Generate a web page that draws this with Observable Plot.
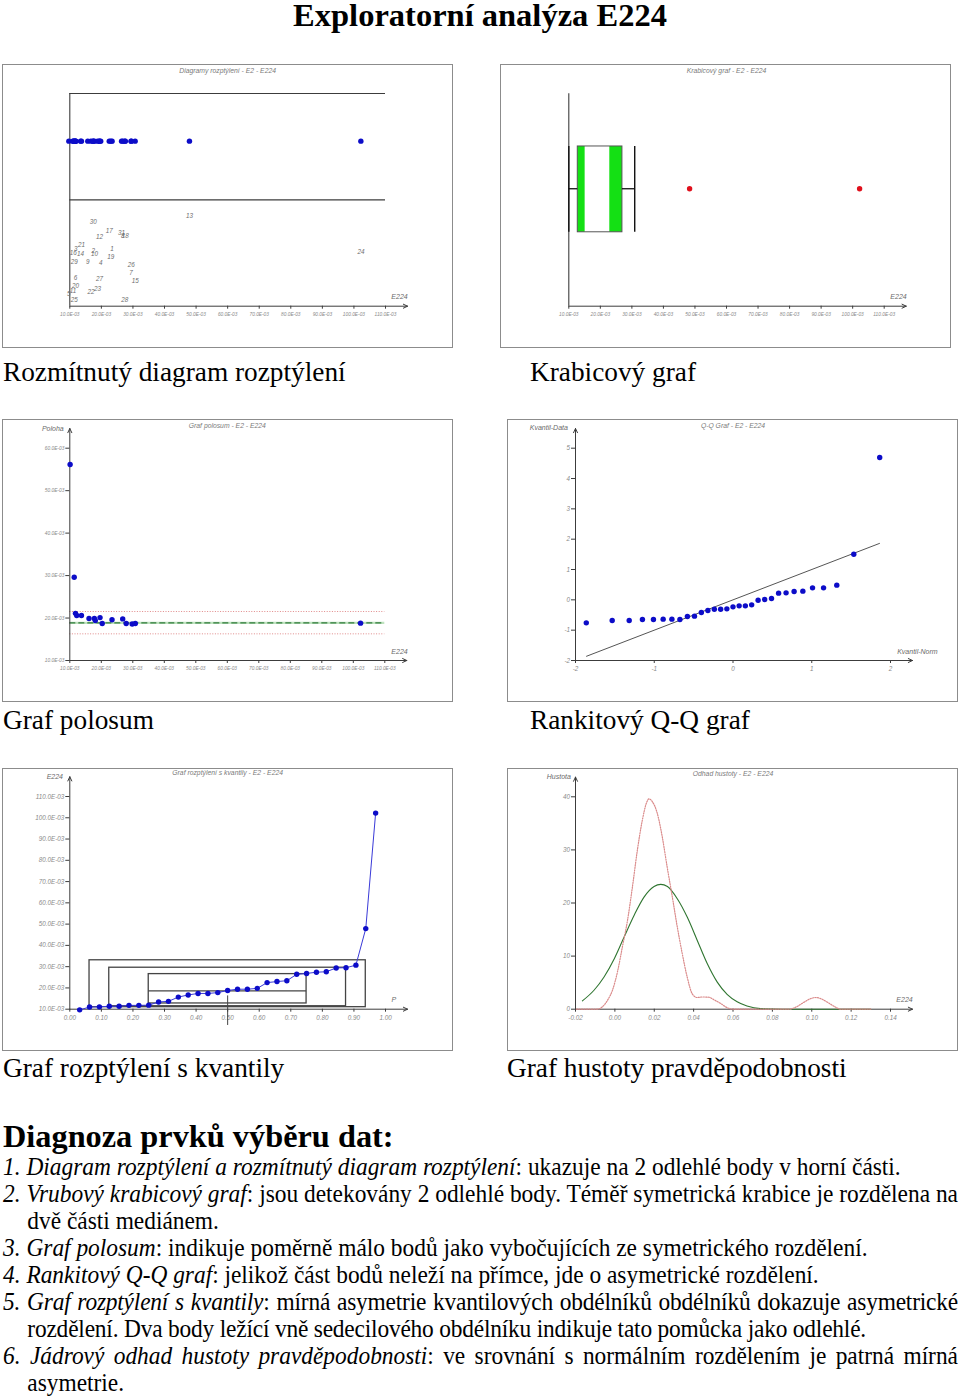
<!DOCTYPE html>
<html><head><meta charset="utf-8">
<script src="https://cdn.jsdelivr.net/npm/d3@7"></script>
<script src="https://cdn.jsdelivr.net/npm/@observablehq/plot@0.6"></script>
<style>
body{margin:0;background:#fff;}
#page{position:relative;width:960px;height:1399px;overflow:hidden;font-family:"Liberation Serif","Times New Roman",serif;color:#000;}
.panel{position:absolute;outline:1px solid #8c8c8c;outline-offset:-1px;background:#fff;}
.panel svg{position:absolute;left:0;top:0;}
.cap{position:absolute;font-size:27.3px;line-height:30px;white-space:nowrap;}
#title{position:absolute;left:0;top:0;width:960px;text-align:center;font-weight:bold;font-size:32.5px;line-height:31px;}
#diag{position:absolute;left:3px;top:1119px;font-weight:bold;font-size:32px;line-height:34px;white-space:nowrap;transform:scaleX(1.01);transform-origin:0 0;}
#notes{position:absolute;left:3px;top:1153px;font-size:25px;line-height:27px;transform:scaleX(0.9355);transform-origin:0 0;}
#notes p{margin:0;text-align:justify;padding-left:26px;text-indent:-26px;}
#notes p.tight{letter-spacing:-0.2px;}
</style></head>
<body>
<div id="page">
 <div id="title">Exploratorní analýza E224</div>
 <div class="panel" id="p1" style="left:2px;top:64px;width:451px;height:284px"></div>
 <div class="panel" id="p2" style="left:500px;top:64px;width:451px;height:284px"></div>
 <div class="panel" id="p3" style="left:2px;top:419px;width:451px;height:283px"></div>
 <div class="panel" id="p4" style="left:507px;top:419px;width:451px;height:283px"></div>
 <div class="panel" id="p5" style="left:2px;top:768px;width:451px;height:283px"></div>
 <div class="panel" id="p6" style="left:507px;top:768px;width:451px;height:283px"></div>
 <div class="cap" style="left:3px;top:357px">Rozmítnutý diagram rozptýlení</div>
 <div class="cap" style="left:530px;top:357px">Krabicový graf</div>
 <div class="cap" style="left:3px;top:705px">Graf polosum</div>
 <div class="cap" style="left:530px;top:705px">Rankitový Q-Q graf</div>
 <div class="cap" style="left:3px;top:1053px">Graf rozptýlení s kvantily</div>
 <div class="cap" style="left:507px;top:1053px">Graf hustoty pravděpodobnosti</div>
 <div id="diag">Diagnoza prvků výběru dat:</div>
 <div id="notes"></div>
</div>
<script>
// ---------------- DATA ----------------
// observation numbers and their E224 values
const obsId    = [1,2,3,4,5,6,7,8,9,10,11,12,13,14,15,16,17,18,19,20,21,22,23,24,25,26,27,28,29,30,31];
const obsValue = [0.0234,0.0174,0.0119,0.0198,0.0097,0.0118,0.0294,0.0268,0.0157,0.0178,0.0110,0.0194,0.0479,0.0134,0.0307,0.0111,0.0225,0.0276,0.0230,0.0118,0.0137,0.0167,0.0188,0.1022,0.0114,0.0295,0.0194,0.0274,0.0114,0.0174,0.0264];
// vertical jitter of the observation labels (jittered dot diagram)
const labelJitter = [0.270,0.262,0.270,0.204,0.058,0.132,0.155,0.328,0.207,0.246,0.072,0.324,0.426,0.246,0.119,0.249,0.356,0.332,0.230,0.093,0.289,0.069,0.079,0.254,0.031,0.195,0.126,0.030,0.207,0.395,0.342];

// box plot
const boxWhiskers = [0.0100, 0.0309];
const boxQuartiles = [0.01285, 0.0270];
const boxNotch = [0.01518, 0.0230];
const boxOutliers = [0.0483, 0.1022];

// half-sum plot
const polosumX = [0.0101,0.0114,0.0118,0.0122,0.0137,0.0161,0.0178,0.0181,0.0196,0.0203,0.0234,0.0268,0.0279,0.0298,0.0308,0.1023];
const polosumY = [0.05615,0.0296,0.0211,0.0206,0.0206,0.0199,0.0199,0.0194,0.0201,0.0187,0.0196,0.0198,0.0187,0.0186,0.0187,0.0188];
const polosumBands = [0.01628, 0.02154];
const polosumMedian = 0.01887;

// rankit Q-Q plot
const qqNorm = [-1.863,-1.534,-1.318,-1.150,-1.010,-0.887,-0.776,-0.674,-0.579,-0.489,-0.402,-0.319,-0.237,-0.157,-0.078,0.000,0.078,0.157,0.237,0.319,0.402,0.489,0.579,0.674,0.776,0.887,1.010,1.150,1.318,1.534,1.863];
const qqData = [-0.758,-0.681,-0.681,-0.648,-0.648,-0.637,-0.637,-0.648,-0.549,-0.538,-0.418,-0.352,-0.308,-0.308,-0.297,-0.231,-0.198,-0.198,-0.165,-0.011,0.011,0.044,0.220,0.231,0.275,0.286,0.396,0.396,0.484,1.505,4.692];
const qqLineX = [-1.86, 1.86];
const qqLineY = [-1.86, 1.86];

// quantile plot: quantile rectangles (sedecile, octile, quartile) and median
const quantP  = [[0.0625,0.9375],[0.125,0.875],[0.25,0.75]];
const quantQ  = [[0.01095,0.0330],[0.0114,0.0295],[0.0127,0.0265]];
const quantMedian = 0.0186;

// density estimates
const kdeX = [-0.0195,-0.012,-0.0089,-0.0064,-0.0037,-0.0012,0.0013,0.0038,0.0064,0.0089,0.0114,0.0139,0.0161,0.0173,0.0190,0.0216,0.0241,0.0266,0.0292,0.0317,0.0342,0.0367,0.0393,0.0418,0.0443,0.0477,0.0502,0.0536,0.0570,0.0604,0.070,0.080,0.0884,0.092,0.096,0.0995,0.102,0.1045,0.108,0.112,0.1146,0.120,0.130];
const kdeY = [0,0,0,0.44,1.7,3.6,7.0,11.7,16.7,23.0,29.9,35.5,38.9,39.6,39.1,36.8,32.4,26.7,21.1,15.5,10.5,6.1,2.9,2.2,2.3,2.25,1.8,1.1,0.3,0,0,0,0,0.4,1.3,2.0,2.2,2.0,1.3,0.4,0,0,0];
const normX = [-0.0165,-0.0106,-0.0055,-0.0003,0.0047,0.0098,0.0148,0.0199,0.0233,0.0267,0.0317,0.0368,0.0418,0.0469,0.0520,0.0570,0.0621,0.0671,0.0739,0.085,0.100,0.115,0.130];
const normY = [1.57,3.57,6.07,9.5,13.6,17.7,21.1,23.1,23.5,23.1,20.8,17.3,13.0,8.6,5.1,2.8,1.4,0.6,0.1,0,0,0,0];

// tick values
const eTicks   = [0.01,0.02,0.03,0.04,0.05,0.06,0.07,0.08,0.09,0.10,0.11];
const poloTicksY = [0.01,0.02,0.03,0.04,0.05,0.06];
const qqTicksX = [-2,-1,0,1,2];
const qqTicksY = [-2,-1,0,1,2,3,4,5];
const pTicks   = [0,0.1,0.2,0.3,0.4,0.5,0.6,0.7,0.8,0.9,1.0];
const densTicksX = [-0.02,0,0.02,0.04,0.06,0.08,0.10,0.12,0.14];
const densTicksY = [0,10,20,30,40];

const notes = [
 ["1. Diagram rozptýlení a rozmítnutý diagram rozptýlení", ": ukazuje na 2 odlehlé body v horní části."],
 ["2. Vrubový krabicový graf", ": jsou detekovány 2 odlehlé body. Téměř symetrická krabice je rozdělena na dvě části mediánem."],
 ["3. Graf polosum", ": indikuje poměrně málo bodů jako vybočujících ze symetrického rozdělení."],
 ["4. Rankitový Q-Q graf", ": jelikož část bodů neleží na přímce, jde o asymetrické rozdělení."],
 ["5. Graf rozptýlení s kvantily", ": mírná asymetrie kvantilových obdélníků obdélníků dokazuje asymetrické rozdělení. Dva body ležící vně sedecilového obdélníku indikuje tato pomůcka jako odlehlé."],
 ["6. Jádrový odhad hustoty pravděpodobnosti", ": ve srovnání s normálním rozdělením je patrná mírná asymetrie."]
];

// ---------------- STYLE ----------------
const AX = "#3c3c3c", TL = "#8a8a8a", LAB = "#6e6e6e";
const BLUE = "#0c0cc8", RED = "#e0101c", GREEN = "#14e014";
const FONT = "'Liberation Sans', Arial, sans-serif";
const fmtE = d => (d * 1000).toFixed(1) + "E-03";
const xDomE = [0.01, 0.11];

function base(o) {
  return Object.assign({width: 451, height: 283,
    style: {background: "transparent", overflow: "visible", fontFamily: FONT, fontSize: "6px"}}, o);
}
function xArrow(dom, y) {
  return Plot.arrow([0], {x1: dom[0], x2: dom[1] + 0.07 * (dom[1] - dom[0]), y1: y, y2: y,
    stroke: AX, strokeWidth: 1, headLength: 7, headAngle: 50});
}
function yArrow(dom, x) {
  return Plot.arrow([0], {x1: x, x2: x, y1: dom[0], y2: dom[1] + 0.093 * (dom[1] - dom[0]),
    stroke: AX, strokeWidth: 1, headLength: 7, headAngle: 50});
}
function title(t, dy) {
  return Plot.text([t], {text: d => d, frameAnchor: "top", dy, fill: "#7a7a7a", fontSize: 6.8, fontStyle: "italic"});
}
function axName(t, anchor, dx, dy, ta) {
  return Plot.text([t], {text: d => d, frameAnchor: anchor, dx, dy, fill: "#6a6a6a", fontSize: 7, fontStyle: "italic", textAnchor: ta || "middle"});
}
const xAx = (ticks, fmt, fs) => Plot.axisX({ticks, tickFormat: fmt, tickSize: 3, tickPadding: 3, stroke: AX, fill: TL, fontSize: fs, fontStyle: "italic"});
const yAx = (ticks, fmt, fs) => Plot.axisY({ticks, tickFormat: fmt, tickSize: 4, tickPadding: 1.5, stroke: AX, fill: TL, fontSize: fs, fontStyle: "italic"});

// ---------------- PANEL 1: jittered dot diagram ----------------
document.getElementById("p1").append(Plot.plot(base({
  height: 284, marginLeft: 67.3, marginRight: 68, marginTop: 29, marginBottom: 42.3,
  x: {domain: xDomE}, y: {domain: [0, 1], axis: null},
  marks: [
    Plot.ruleY([0.5, 1], {x1: xDomE[0], x2: xDomE[1], stroke: AX, strokeWidth: 1.1}),
    Plot.ruleX([xDomE[0]], {y1: 0, y2: 1, stroke: AX, strokeWidth: 1.1}),
    xArrow(xDomE, 0),
    xAx(eTicks, fmtE, 4.8),
    Plot.dot(obsValue, {x: d => d, y: 0.776, r: 2.7, fill: BLUE}),
    Plot.text(obsId, {x: (d, i) => obsValue[i], y: (d, i) => labelJitter[i], text: d => String(d), fontSize: 6.3, fontStyle: "italic", fill: LAB}),
    title("Diagramy rozptýlení - E2 - E224", -25),
    axName("E224", "bottom-right", 14, -7)
  ]
})));

// ---------------- PANEL 2: notched box plot ----------------
const bY1 = 0.348, bY2 = 0.752, bYm = 0.553;
document.getElementById("p2").append(Plot.plot(base({
  height: 284, marginLeft: 68.3, marginRight: 67.3, marginTop: 29.3, marginBottom: 42.3,
  x: {domain: xDomE}, y: {domain: [0, 1], axis: null},
  marks: [
    Plot.ruleX([xDomE[0]], {y1: 0, y2: 1, stroke: AX, strokeWidth: 1.1}),
    xArrow(xDomE, 0),
    xAx(eTicks, fmtE, 4.8),
    Plot.rect([0], {x1: boxQuartiles[0], x2: boxNotch[0], y1: bY1, y2: bY2, fill: GREEN}),
    Plot.rect([0], {x1: boxNotch[1], x2: boxQuartiles[1], y1: bY1, y2: bY2, fill: GREEN}),
    Plot.rect([0], {x1: boxQuartiles[0], x2: boxQuartiles[1], y1: bY1, y2: bY2, fill: "none", stroke: "#555", strokeWidth: 1}),
    Plot.ruleY([bYm], {x1: boxWhiskers[0], x2: boxQuartiles[0], stroke: "#111", strokeWidth: 1.3}),
    Plot.ruleY([bYm], {x1: boxQuartiles[1], x2: boxWhiskers[1], stroke: "#111", strokeWidth: 1.3}),
    Plot.ruleX(boxWhiskers, {y1: bY1, y2: bY2, stroke: "#111", strokeWidth: 1.4}),
    Plot.dot(boxOutliers, {x: d => d, y: bYm, r: 2.7, fill: RED}),
    title("Krabicový graf - E2 - E224", -25.3),
    axName("E224", "bottom-right", 14.3, -7)
  ]
})));

// ---------------- PANEL 3: half-sum plot ----------------
const yDom3 = [0.01, 0.06];
document.getElementById("p3").append(Plot.plot(base({
  marginLeft: 67.3, marginRight: 68.7, marginTop: 28.7, marginBottom: 42,
  x: {domain: xDomE}, y: {domain: yDom3},
  marks: [
    Plot.ruleY(polosumBands, {x1: xDomE[0], x2: xDomE[1], stroke: "#e08a8a", strokeWidth: 1, strokeDasharray: "1,1.6"}),
    Plot.ruleY([polosumMedian], {x1: xDomE[0], x2: xDomE[1], stroke: "#bfe3bf", strokeWidth: 2.2}),
    Plot.ruleY([polosumMedian], {x1: xDomE[0], x2: xDomE[1], stroke: "#2f7a3a", strokeWidth: 1.2, strokeDasharray: "6,3"}),
    xArrow(xDomE, yDom3[0]),
    yArrow(yDom3, xDomE[0]),
    xAx(eTicks, fmtE, 4.8),
    yAx(poloTicksY, fmtE, 4.8),
    Plot.dot(polosumX, {x: d => d, y: (d, i) => polosumY[i], r: 2.7, fill: BLUE}),
    title("Graf polosum - E2 - E224", -24.7),
    axName("Poloha", "top-left", -17, -22),
    axName("E224", "bottom-right", 14.7, -6.3)
  ]
})));

// ---------------- PANEL 4: rankit Q-Q plot ----------------
const xDom4 = [-2, 2], yDom4 = [-2, 5];
document.getElementById("p4").append(Plot.plot(base({
  marginLeft: 68, marginRight: 68, marginTop: 28.7, marginBottom: 42,
  x: {domain: xDom4}, y: {domain: yDom4},
  marks: [
    xArrow(xDom4, yDom4[0]),
    yArrow(yDom4, xDom4[0]),
    xAx(qqTicksX, d => String(d), 6.3),
    yAx(qqTicksY, d => String(d), 6.3),
    Plot.line(qqLineX, {x: d => d, y: (d, i) => qqLineY[i], stroke: "#555", strokeWidth: 1}),
    Plot.dot(qqNorm, {x: d => d, y: (d, i) => qqData[i], r: 2.7, fill: BLUE}),
    title("Q-Q Graf - E2 - E224", -24.7),
    axName("Kvantil-Data", "top-left", -26.7, -22.7),
    axName("Kvantil-Norm", "bottom-right", 6.7, -6.3, "start")
  ]
})));

// ---------------- PANEL 5: quantile plot ----------------
const xDom5 = [0, 1], yDom5 = [0.01, 0.11];
const sorted = d3.sort(obsValue);
const nObs = sorted.length;
document.getElementById("p5").append(Plot.plot(base({
  marginLeft: 67.3, marginRight: 68, marginTop: 28, marginBottom: 42.3,
  x: {domain: xDom5}, y: {domain: yDom5},
  marks: [
    xArrow(xDom5, yDom5[0]),
    yArrow(yDom5, xDom5[0]),
    xAx(pTicks, d => d.toFixed(2), 6.3),
    yAx(eTicks, fmtE, 6.3),
    Plot.rect(quantP, {x1: d => d[0], x2: d => d[1], y1: (d, i) => quantQ[i][0], y2: (d, i) => quantQ[i][1], fill: "none", stroke: "#444", strokeWidth: 1.3}),
    Plot.ruleY([quantMedian], {x1: quantP[2][0], x2: quantP[2][1], stroke: "#444", strokeWidth: 1.3}),
    Plot.ruleX([0.5], {y: quantMedian, insetTop: -5, insetBottom: -5, stroke: "#444", strokeWidth: 1}),
    Plot.line(sorted, {x: (d, i) => (i + 1) / (nObs + 1), y: d => d, stroke: "#3a3ad8", strokeWidth: 1}),
    Plot.dot(sorted, {x: (d, i) => (i + 1) / (nObs + 1), y: d => d, r: 2.7, fill: BLUE}),
    title("Graf rozptýlení s kvantily - E2 - E224", -26),
    axName("E224", "top-left", -15, -22),
    axName("P", "bottom-right", 8.3, -7)
  ]
})));

// ---------------- PANEL 6: density ----------------
const xDom6 = [-0.02, 0.14], yDom6 = [0, 40];
document.getElementById("p6").append(Plot.plot(base({
  marginLeft: 68, marginRight: 68, marginTop: 28.3, marginBottom: 42.3,
  x: {domain: xDom6}, y: {domain: yDom6},
  marks: [
    xArrow(xDom6, yDom6[0]),
    yArrow(yDom6, xDom6[0]),
    xAx(densTicksX, d => d.toFixed(2), 6.3),
    yAx(densTicksY, d => String(d), 6.3),
    Plot.line(normX, {x: d => d, y: (d, i) => normY[i], stroke: "#2f7530", strokeWidth: 1.1, curve: "monotone-x"}),
    Plot.line(kdeX, {x: d => d, y: (d, i) => kdeY[i], stroke: "#da8a8a", strokeWidth: 1.2, strokeDasharray: "1.2,1.3", curve: "monotone-x"}),
    title("Odhad hustoty - E2 - E224", -26),
    axName("Hustota", "top-left", -16.7, -22.3),
    axName("E224", "bottom-right", 14, -7)
  ]
})));

// ---------------- NOTES ----------------
const notesDiv = document.getElementById("notes");
notesDiv.style.width = (955 / 0.9355) + "px";
notes.forEach(([it, rest], k) => {
  const p = document.createElement("p");
  if (k === 4) p.className = "tight";
  const i = document.createElement("i");
  i.textContent = it;
  p.append(i, document.createTextNode(rest));
  notesDiv.append(p);
});
</script>
</body></html>
